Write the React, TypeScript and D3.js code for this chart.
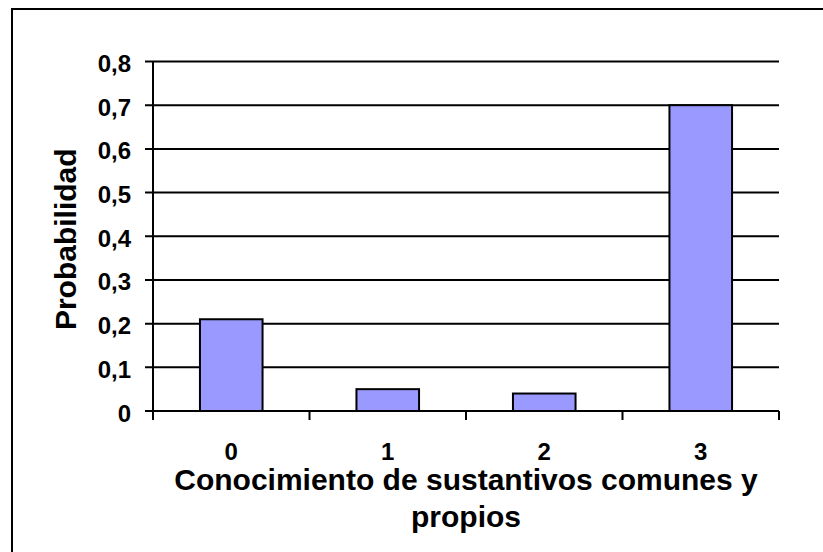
import React from "react";
import * as d3 from "d3";

const categories = ["0", "1", "2", "3"];
const probabilities = [0.21, 0.05, 0.04, 0.7];
const yTickValues = [0, 0.1, 0.2, 0.3, 0.4, 0.5, 0.6, 0.7, 0.8];
const yTickLabels = ["0", "0,1", "0,2", "0,3", "0,4", "0,5", "0,6", "0,7", "0,8"];
const xTitleLines = ["Conocimiento de sustantivos comunes y", "propios"];
const yTitle = "Probabilidad";

const W = 823;
const H = 552;
const left = 153;
const right = 779;
const top = 61.5;
const bottom = 411;
const FONT = "'Liberation Sans', Arial, Helvetica, sans-serif";

export default function App() {
  const x = d3.scaleBand<string>().domain(categories).range([left, right]).padding(0);
  const y = d3.scaleLinear().domain([0, 0.8]).range([bottom, top]);
  const step = x.step();
  const barW = step * 0.4;
  const boundaries = d3.range(categories.length + 1).map((i) => left + i * step);

  return (
    <svg
      width={W}
      height={H}
      style={{ position: "absolute", left: 0, top: 0, background: "#fff" }}
    >
      <rect x={0} y={0} width={W} height={H} fill="#fff" />
      {/* outer frame */}
      <rect x={12} y={9} width={W + 20} height={H + 20} fill="none" stroke="#000" strokeWidth={2} />

      {/* gridlines */}
      {yTickValues.map((v) => (
        <line key={"g" + v} x1={left - 8} x2={right} y1={y(v)} y2={y(v)} stroke="#000" strokeWidth={2} />
      ))}

      {/* y axis */}
      <line x1={left} x2={left} y1={y(0.8)} y2={y(0)} stroke="#000" strokeWidth={2} />
      {/* x ticks */}
      {boundaries.map((bx, i) => (
        <line key={"xt" + i} x1={bx} x2={bx} y1={y(0)} y2={y(0) + 9} stroke="#000" strokeWidth={2} />
      ))}

      {/* bars */}
      {categories.map((c, i) => (
        <rect
          key={"b" + c}
          x={(x(c) as number) + (step - barW) / 2}
          y={y(probabilities[i])}
          width={barW}
          height={y(0) - y(probabilities[i])}
          fill="#9999FF"
          stroke="#000"
          strokeWidth={2}
        />
      ))}

      {/* y tick labels */}
      {yTickValues.map((v, i) => (
        <text
          key={"yl" + v}
          x={131}
          y={y(v) + 10.5}
          textAnchor="end"
          fontFamily={FONT}
          fontWeight="bold"
          fontSize={24}
          fill="#000"
        >
          {yTickLabels[i]}
        </text>
      ))}

      {/* x tick labels */}
      {categories.map((c) => (
        <text
          key={"xl" + c}
          x={(x(c) as number) + step / 2}
          y={460}
          textAnchor="middle"
          fontFamily={FONT}
          fontWeight="bold"
          fontSize={24}
          fill="#000"
        >
          {c}
        </text>
      ))}

      {/* x title */}
      {xTitleLines.map((t, i) => (
        <text
          key={"xt" + i}
          x={(left + right) / 2}
          y={490 + i * 37}
          textAnchor="middle"
          fontFamily={FONT}
          fontWeight="bold"
          fontSize={30}
          fill="#000"
        >
          {t}
        </text>
      ))}

      {/* y title */}
      <text
        transform={`translate(76, ${(top + bottom) / 2 + 3}) rotate(-90)`}
        textAnchor="middle"
        fontFamily={FONT}
        fontWeight="bold"
        fontSize={30}
        fill="#000"
      >
        {yTitle}
      </text>
    </svg>
  );
}
